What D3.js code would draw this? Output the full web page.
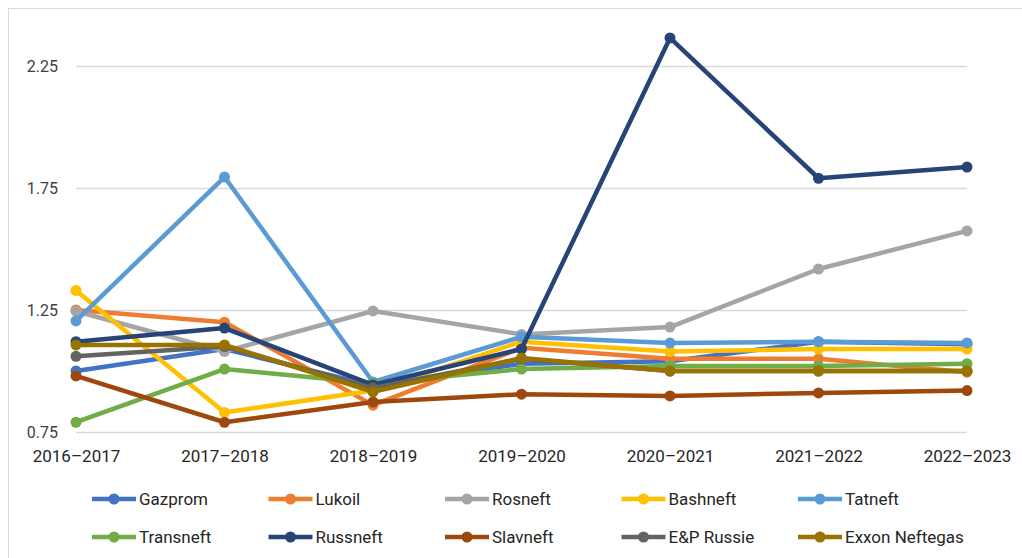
<!DOCTYPE html>
<html>
<head>
<meta charset="utf-8">
<script src="https://cdn.jsdelivr.net/npm/d3@7"></script>
<style>
  body { margin: 0; background: #fff; }
  svg { display: block; font-family: Roboto, "Liberation Sans", sans-serif; }
</style>
</head>
<body>
<svg id="chart" width="1022" height="558"></svg>
<script>
// categories and ticks
const years = ['2016–2017', '2017–2018', '2018–2019', '2019–2020', '2020–2021', '2021–2022', '2022–2023'];
const yTicks = [0.75, 1.25, 1.75, 2.25];

// series values
const gazprom   = [1.00, 1.09, 0.94, 1.03, 1.04, 1.12, 1.11];
const lukoil    = [1.25, 1.20, 0.86, 1.095, 1.05, 1.05, 0.995];
const rosneft   = [1.245, 1.08, 1.246, 1.15, 1.18, 1.418, 1.574];
const bashneft  = [1.33, 0.83, 0.92, 1.12, 1.08, 1.09, 1.09];
const tatneft   = [1.205, 1.795, 0.955, 1.14, 1.115, 1.12, 1.115];
const transneft = [0.79, 1.008, 0.95, 1.008, 1.02, 1.02, 1.03];
const russneft  = [1.12, 1.176, 0.943, 1.09, 2.365, 1.79, 1.836];
const slavneft  = [0.98, 0.79, 0.873, 0.905, 0.898, 0.91, 0.92];
const epRussie  = [1.06, 1.10, 0.93, 1.05, 1.0, 1.0, 1.0];
const exxon     = [1.107, 1.107, 0.915, 1.053, 1.0, 1.0, 1.0];

const seriesNames = ['Gazprom', 'Lukoil', 'Rosneft', 'Bashneft', 'Tatneft',
  'Transneft', 'Russneft', 'Slavneft', 'E&P Russie', 'Exxon Neftegas'];
const seriesValues = [gazprom, lukoil, rosneft, bashneft, tatneft,
  transneft, russneft, slavneft, epRussie, exxon];
const colors = ['#4472C4', '#ED7D31', '#A5A5A5', '#FFC000', '#5B9BD5',
  '#70AD47', '#264478', '#9E480E', '#636363', '#997300'];

const series = seriesNames.map((name, i) => ({ name: name, values: seriesValues[i], color: colors[i] }));

const svg = d3.select('#chart');

// chart border
svg.append('rect')
  .attr('x', 8.5).attr('y', 8.5)
  .attr('width', 1030).attr('height', 570)
  .attr('fill', 'none')
  .attr('stroke', '#d9d9d9');

const xScale = d3.scalePoint()
  .domain(years)
  .range([76, 967]);

const yScale = d3.scaleLinear()
  .domain([0.75, 2.25])
  .range([432, 66]);

// gridlines
svg.append('g')
  .selectAll('line').data(yTicks)
  .enter().append('line')
  .attr('x1', 76).attr('x2', 967)
  .attr('y1', d => Math.round(yScale(d)) + 0.5)
  .attr('y2', d => Math.round(yScale(d)) + 0.5)
  .attr('stroke', '#d9d9d9')
  .attr('stroke-width', 1.5);

// y axis labels
const yAxis = svg.append('g')
  .attr('transform', 'translate(60, 0)')
  .call(d3.axisLeft(yScale).tickValues(yTicks).tickFormat(d3.format('.2f')).tickSize(0).tickPadding(2));
yAxis.select('.domain').remove();
yAxis.selectAll('text').attr('font-size', 16).attr('fill', '#404040').attr('font-family', 'Roboto, sans-serif');

// x axis labels
const xAxis = svg.append('g')
  .attr('transform', 'translate(0, 446)')
  .call(d3.axisBottom(xScale).tickSize(0).tickPadding(4));
xAxis.select('.domain').remove();
xAxis.selectAll('text').attr('font-size', 17).attr('fill', '#262626').attr('font-family', 'Roboto, sans-serif');

// lines and markers
const line = d3.line()
  .x((d, i) => xScale(years[i]))
  .y(d => yScale(d));

const g = svg.append('g');
series.forEach(s => {
  const sg = g.append('g');
  sg.append('path')
    .attr('d', line(s.values))
    .attr('fill', 'none')
    .attr('stroke', s.color)
    .attr('stroke-width', 4.5)
    .attr('stroke-linejoin', 'round')
    .attr('stroke-linecap', 'round');
  sg.selectAll('circle').data(s.values)
    .enter().append('circle')
    .attr('cx', (d, i) => xScale(years[i]))
    .attr('cy', d => yScale(d))
    .attr('r', 5.5)
    .attr('fill', s.color);
});

// legend
const legend = svg.append('g');
series.forEach((s, i) => {
  const col = i % 5, row = Math.floor(i / 5);
  const lx = 92 + col * 176.5, ly = 499 + row * 38;
  const item = legend.append('g').attr('transform', `translate(${lx}, ${ly})`);
  item.append('line')
    .attr('x1', 0).attr('x2', 44)
    .attr('stroke', s.color).attr('stroke-width', 4.5);
  item.append('circle')
    .attr('cx', 22).attr('r', 5.5).attr('fill', s.color);
  item.append('text')
    .attr('x', 47).attr('dy', '0.35em')
    .attr('font-size', 17).attr('fill', '#262626')
    .text(s.name);
});
</script>
</body>
</html>
